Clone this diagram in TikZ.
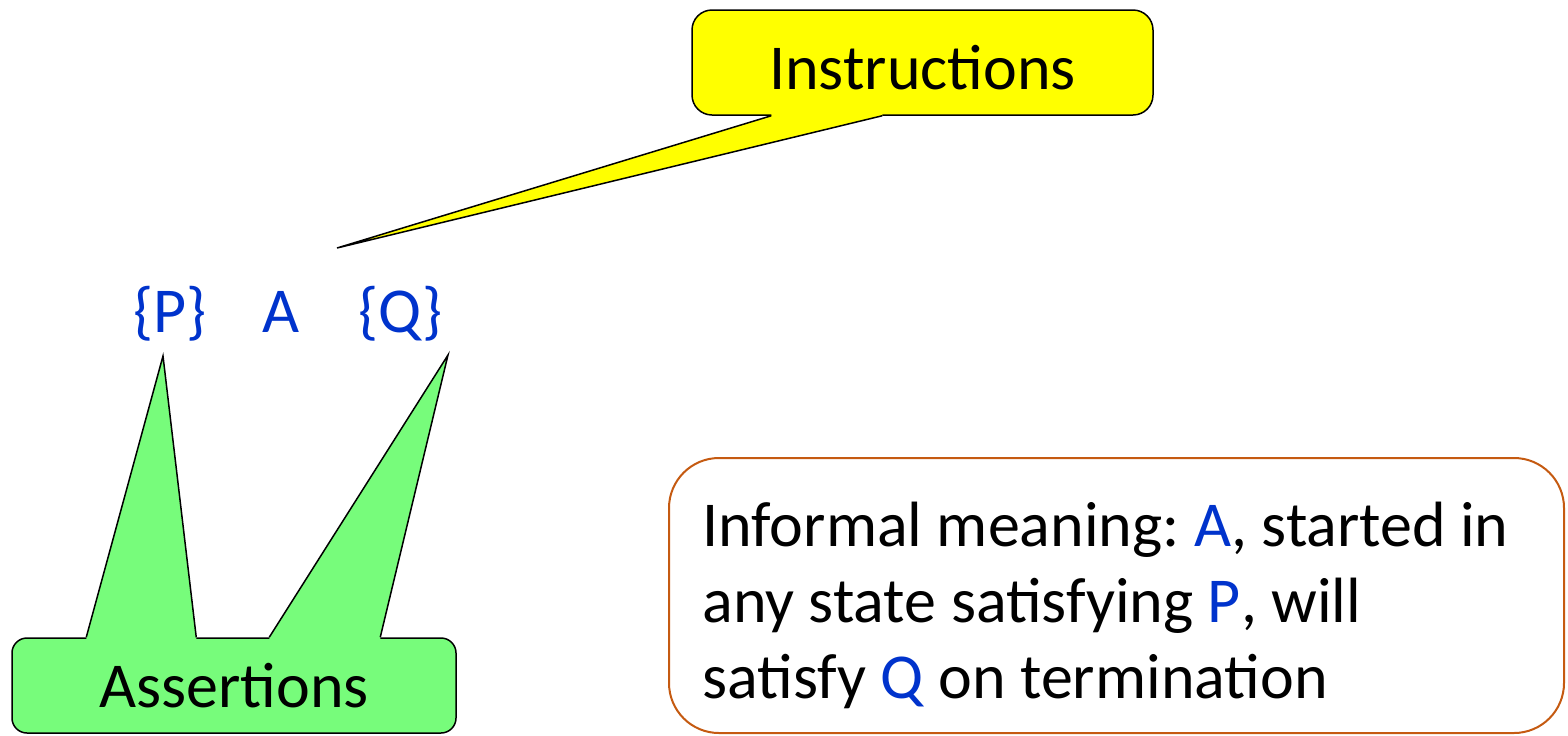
\documentclass[tikz,border=0pt]{standalone}
\usepackage{fontspec}
\setmainfont{Carlito}
\usetikzlibrary{calc}

\definecolor{calloutyellow}{RGB}{255,255,0}
\definecolor{calloutgreen}{RGB}{119,252,123}
\definecolor{hoareblue}{RGB}{0,51,204}
\definecolor{boxorange}{RGB}{197,90,17}

\begin{document}
\frenchspacing
\begin{tikzpicture}
        [
            x                   = 0.5pt,
            y                   = -0.5pt,
            every node/.style   = {font=\fontsize{32}{38}\selectfont, inner sep=0pt},
            callout/.style      = {shape=rectangle, draw, line width=0.75pt, align=center, text depth=0pt},
            formula/.style      = {text=hoareblue, anchor=base west},
            infobox/.style      = {shape=rectangle, draw=boxorange, line width=1pt,
                                   rounded corners=25pt, minimum width=447.5pt, minimum height=137.5pt},
            infotext/.style     = {align=left, anchor=west},
            tail/.style         = {line width=0.75pt},
        ]
        \useasboundingbox (0,0) rectangle (1568,735);

        % the triple
        \node [formula] (pre)  at (133,332) {\{P\}};
        \node [formula] (prog) at (262,332) {A};
        \node [formula] (post) at (358,332) {\{Q\}};

        % callout boxes
        \node [callout, fill=calloutyellow, rounded corners=10pt, text height=26.5pt,
               minimum width=230.5pt, minimum height=52.5pt] (instr) at (922.5,62.5) {Instructions};
        \node [callout, fill=calloutgreen, rounded corners=7.5pt, text height=21.5pt,
               minimum width=222pt, minimum height=47.5pt] (assert) at (234,685.5) {Assertions};

        % their tails
        \coordinate (instr tip) at (337,248);
        \coordinate (pre tip)   at (163,356);
        \coordinate (post tip)  at (448,355);

        \fill [calloutyellow] ($(instr.south west)+(80,-3)$) -- ($(instr.south west)+(80,0)$)
            -- (instr tip) -- ($(instr.south west)+(191,0)$) -- ($(instr.south west)+(191,-3)$) -- cycle;
        \draw [tail] ($(instr.south west)+(80,0)$) -- (instr tip) -- ($(instr.south west)+(191,0)$);

        \foreach \from/\to/\tip in {75/185/pre tip, 258/369/post tip}
        {
            \fill [calloutgreen] ($(assert.north west)+(\from,3)$) -- ($(assert.north west)+(\from,0)$)
                -- (\tip) -- ($(assert.north west)+(\to,0)$) -- ($(assert.north west)+(\to,3)$) -- cycle;
            \draw [tail] ($(assert.north west)+(\from,0)$) -- (\tip) -- ($(assert.north west)+(\to,0)$);
        }

        % meaning
        \node [infobox] (meaning) at (1116.5,595.5) {};
        \node [infotext] (meaning text) at ($(meaning.west)+(34,10)$)
            {Informal meaning: \textcolor{hoareblue}{A}, started in\\
             any state satisfying \textcolor{hoareblue}{P}, will\\
             satisfy \textcolor{hoareblue}{Q} on termination};
    \end{tikzpicture}
\end{document}
